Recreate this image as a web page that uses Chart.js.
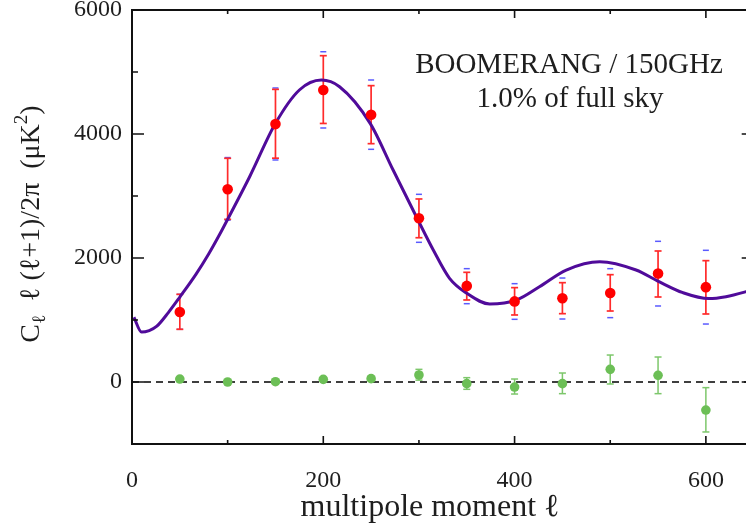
<!DOCTYPE html>
<html><head><meta charset="utf-8">
<script src="https://cdn.jsdelivr.net/npm/chart.js@4/dist/chart.umd.min.js"></script>
<style>html,body{margin:0;padding:0;overflow:hidden;background:#fff;width:746px;height:529px}</style>
</head><body>
<canvas id="c" width="759" height="529" style="display:block;width:759px;height:529px"></canvas>
<script>
// ---- data ----
const ells      = [50, 100, 150, 200, 250, 300, 350, 400, 450, 500, 550, 600];
const boomerang = [1130, 3110, 4160, 4710, 4310, 2640, 1550, 1300, 1350, 1435, 1750, 1530];
const redLow    = [850, 2624, 3610, 4170, 3844, 2327, 1323, 1081, 1102, 1145, 1371, 1097];
const redHigh   = [1414, 3608, 4720, 5263, 4780, 2952, 1769, 1522, 1602, 1731, 2113, 1957];
const blueLow   = [850, 2610, 3581, 4097, 3753, 2253, 1263, 1011, 1016, 1038, 1226, 935];
const blueHigh  = [1414, 3620, 4742, 5327, 4871, 3027, 1828, 1586, 1677, 1828, 2269, 2124];
const nullTest  = [48, 0, 5, 43, 54, 113, -27, -81, -27, 204, 108, -452];
const nullLow   = [20, -20, -15, 20, 30, 30, -118, -194, -188, -32, -188, -806];
const nullHigh  = [75, 20, 25, 65, 80, 204, 70, 48, 145, 435, 403, -91];
const theoryL   = [2, 10, 18, 26, 38, 50, 67, 80, 92, 100, 123, 150, 175, 198, 217, 249, 273, 299, 315, 332, 350, 374, 402, 426, 454, 489, 527, 551, 576, 603, 621, 650];
const theoryV   = [1045, 805, 830, 900, 1120, 1370, 1740, 2060, 2390, 2624, 3311, 4172, 4710, 4871, 4763, 4172, 3419, 2613, 2129, 1672, 1431, 1258, 1323, 1537, 1806, 1940, 1806, 1618, 1441, 1345, 1376, 1490];
const xTicks = [0, 200, 400, 600];
const xMinor = [100, 300, 500];
const yTicks = [0, 2000, 4000, 6000];
const yMinor = [1000, 3000, 5000];
const xRange = [0, 650];
const yRange = [-1000, 6000];
const annotation = ['BOOMERANG / 150GHz', '1.0% of full sky'];
const xTitle = 'multipole moment \u2113';

const SERIF = "'Liberation Serif','Times New Roman',serif";
const INK = '#1e1e1e';

const errorBars = {
  id: 'errorBars',
  beforeDatasetsDraw(chart) {
    const {ctx, scales: {x, y}} = chart;
    ctx.save();
    ctx.lineCap = 'butt';
    const cap = (px, v, hw, col, lw) => {
      const py = y.getPixelForValue(v);
      ctx.strokeStyle = col; ctx.lineWidth = lw;
      ctx.beginPath(); ctx.moveTo(px - hw, py); ctx.lineTo(px + hw, py); ctx.stroke();
    };
    ells.forEach((l, i) => {
      const px = x.getPixelForValue(l);
      cap(px, blueLow[i], 3, '#5a5aff', 1.5);
      cap(px, blueHigh[i], 3, '#5a5aff', 1.5);
      ctx.strokeStyle = '#ff2b2b'; ctx.lineWidth = 1.7;
      ctx.beginPath(); ctx.moveTo(px, y.getPixelForValue(redLow[i])); ctx.lineTo(px, y.getPixelForValue(redHigh[i])); ctx.stroke();
      cap(px, redLow[i], 3.5, '#ff2b2b', 1.7);
      cap(px, redHigh[i], 3.5, '#ff2b2b', 1.7);
      ctx.strokeStyle = '#7dc76b'; ctx.lineWidth = 1.5;
      ctx.beginPath(); ctx.moveTo(px, y.getPixelForValue(nullLow[i])); ctx.lineTo(px, y.getPixelForValue(nullHigh[i])); ctx.stroke();
      cap(px, nullLow[i], 3.5, '#7dc76b', 1.5);
      cap(px, nullHigh[i], 3.5, '#7dc76b', 1.5);
    });
    ctx.restore();
  }
};

const frame = {
  id: 'frame',
  afterDatasetsDraw(chart) {
    const {ctx, chartArea: a, scales: {x, y}} = chart;
    ctx.save();
    ctx.strokeStyle = '#111';
    ctx.lineWidth = 2;
    ctx.strokeRect(a.left, a.top, a.right - a.left, a.bottom - a.top);
    ctx.lineWidth = 1.6;
    const xt = (vals, len) => vals.forEach(v => {
      const px = x.getPixelForValue(v);
      ctx.beginPath();
      ctx.moveTo(px, a.bottom); ctx.lineTo(px, a.bottom - len);
      ctx.moveTo(px, a.top); ctx.lineTo(px, a.top + len);
      ctx.stroke();
    });
    const yt = (vals, len) => vals.forEach(v => {
      const py = y.getPixelForValue(v);
      ctx.beginPath();
      ctx.moveTo(a.left, py); ctx.lineTo(a.left + len, py);
      ctx.moveTo(a.right, py); ctx.lineTo(a.right - len, py);
      ctx.stroke();
    });
    xt(xTicks, 8); xt(xMinor, 4);
    yt(yTicks, 12); yt(yMinor, 6);
    ctx.restore();
  }
};

const texts = {
  id: 'texts',
  afterDraw(chart) {
    const {ctx} = chart;
    ctx.save();
    ctx.fillStyle = INK;
    ctx.font = '29px ' + SERIF;
    ctx.textAlign = 'center';
    ctx.textBaseline = 'alphabetic';
    ctx.fillText(annotation[0], 569, 73);
    ctx.fillText(annotation[1], 570, 107);
    ctx.font = '32px ' + SERIF;
    ctx.fillText(xTitle, 430, 516);
    const F = 28;
    const parts = [
      {t: 'C', s: 1, dy: 0},
      {t: '\u2113', s: 0.68, dy: 0.22},
      {t: '  \u2113 (\u2113+1)/2\u03c0  (\u03bcK', s: 1, dy: 0},
      {t: '2', s: 0.68, dy: -0.42},
      {t: ')', s: 1, dy: 0}
    ];
    let total = 0;
    parts.forEach(p => { ctx.font = (F * p.s) + 'px ' + SERIF; p.w = ctx.measureText(p.t).width; total += p.w; });
    ctx.translate(39, 224);
    ctx.rotate(-Math.PI / 2);
    ctx.textAlign = 'left';
    let cx = -total / 2;
    parts.forEach(p => {
      ctx.font = (F * p.s) + 'px ' + SERIF;
      ctx.fillText(p.t, cx, p.dy * F);
      cx += p.w;
    });
    ctx.restore();
  }
};

const plainTick = v => String(v);

new Chart(document.getElementById('c'), {
  type: 'scatter',
  data: {
    datasets: [
      {label: 'BOOMERANG 150GHz', data: ells.map((l, i) => ({x: l, y: boomerang[i]})),
       backgroundColor: '#ff0000', borderColor: '#ff0000', pointRadius: 5.3, pointBorderWidth: 0, order: 0},
      {label: 'difference', data: ells.map((l, i) => ({x: l, y: nullTest[i]})),
       backgroundColor: '#6cbf56', borderColor: '#6cbf56', pointRadius: 4.8, pointBorderWidth: 0, order: 1},
      {type: 'line', label: 'model', data: theoryL.map((l, i) => ({x: l, y: theoryV[i]})),
       borderColor: '#500b9a', borderWidth: 3, pointRadius: 0, cubicInterpolationMode: 'monotone', fill: false, order: 2},
      {type: 'line', label: 'zero', data: [{x: xRange[0], y: 0}, {x: xRange[1], y: 0}],
       borderColor: '#000', borderWidth: 1.6, borderDash: [7, 5], pointRadius: 0, fill: false, order: 3}
    ]
  },
  options: {
    responsive: false, animation: false, devicePixelRatio: 1,
    layout: {padding: {top: 10, right: 0, left: 0, bottom: 0}},
    plugins: {legend: {display: false}, tooltip: {enabled: false}},
    scales: {
      x: {
        type: 'linear', min: xRange[0], max: xRange[1],
        afterBuildTicks: s => { s.ticks = xTicks.map(v => ({value: v})); },
        afterFit: s => { s.height = 85; s.paddingLeft = 0; s.paddingRight = 0; },
        grid: {display: false, drawTicks: false},
        border: {display: false},
        ticks: {font: {family: SERIF, size: 24}, color: INK, padding: 22, maxRotation: 0, autoSkip: false, callback: plainTick}
      },
      y: {
        type: 'linear', min: yRange[0], max: yRange[1],
        afterBuildTicks: s => { s.ticks = yTicks.map(v => ({value: v})); },
        afterFit: s => { s.width = 132; s.paddingTop = 0; s.paddingBottom = 0; },
        grid: {display: false, drawTicks: false},
        border: {display: false},
        ticks: {font: {family: SERIF, size: 24}, color: INK, padding: 10, autoSkip: false, callback: plainTick}
      }
    }
  },
  plugins: [errorBars, frame, texts]
});
</script>
</body></html>
